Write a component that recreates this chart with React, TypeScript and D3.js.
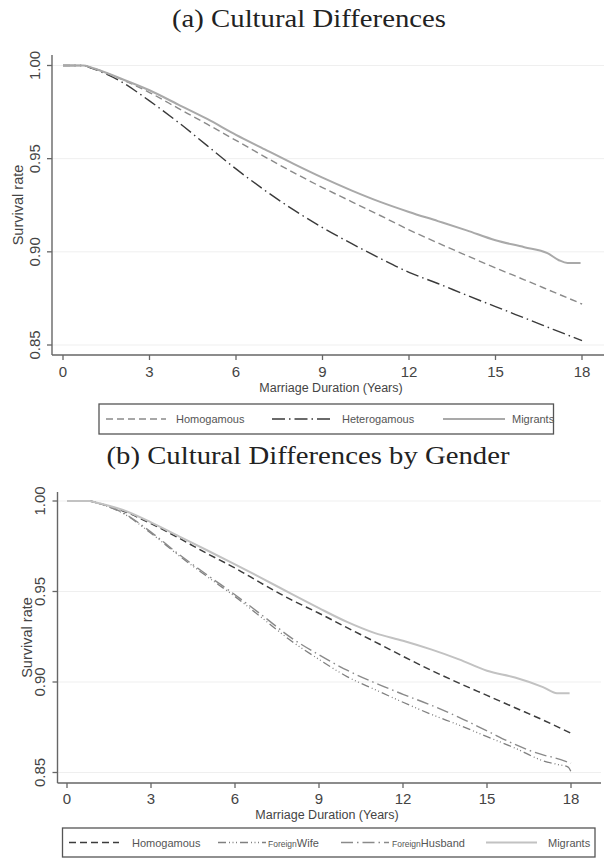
import React from "react";
import * as d3 from "d3";

// ---------- data ----------
const xTicks = [0, 3, 6, 9, 12, 15, 18];
const yTicks = [0.85, 0.9, 0.95, 1.0];

const titleA = "(a) Cultural Differences";
const titleB = "(b) Cultural Differences by Gender";
const xTitle = "Marriage Duration (Years)";
const yTitle = "Survival rate";

// Panel (a)
const homogA: [number, number][] = [
  [0, 1], [0.7, 1.0], [1, 0.9988], [2, 0.9928], [3, 0.9855], [4, 0.977], [5, 0.9685],
  [6, 0.9598], [7, 0.951], [8, 0.9425], [9, 0.9345], [10, 0.927], [11, 0.9195],
  [12, 0.9118], [13, 0.9048], [14, 0.898], [15, 0.8914], [16, 0.885], [17, 0.8785], [18, 0.872],
];
const heteroA: [number, number][] = [
  [0, 1], [0.7, 1.0], [1, 0.9985], [2, 0.9915], [3, 0.981], [4, 0.9695], [5, 0.957],
  [6, 0.9445], [7, 0.933], [8, 0.9225], [9, 0.913], [10, 0.9045], [11, 0.8965],
  [12, 0.889], [13, 0.883], [14, 0.8767], [15, 0.8706], [16, 0.8645], [17, 0.8584], [18, 0.8523],
];
const migrantsA: [number, number][] = [
  [0, 1], [0.7, 1.0], [1, 0.9988], [2, 0.993], [3, 0.9867], [4, 0.979], [5, 0.9713],
  [6, 0.9628], [7, 0.955], [8, 0.9472], [9, 0.9398], [10, 0.933], [11, 0.9268],
  [12, 0.9214], [13, 0.9165], [14, 0.9115], [15, 0.9062], [16, 0.9025], [16.8, 0.8993],
  [17.2, 0.8955], [17.5, 0.894], [17.95, 0.894],
];

// Panel (b)
const homogB: [number, number][] = [
  [0, 1], [0.8, 1.0], [1, 0.9993], [2, 0.9945], [3, 0.9875], [4, 0.9795], [5, 0.971],
  [6, 0.963], [7, 0.954], [8, 0.9455], [9, 0.938], [10, 0.93], [11, 0.9222],
  [12, 0.9142], [13, 0.9065], [14, 0.8994], [15, 0.8926], [16, 0.8858], [17, 0.879], [18, 0.8717],
];
const foreignWifeB: [number, number][] = [
  [0, 1], [0.8, 1.0], [1, 0.9992], [2, 0.9932], [3, 0.9822], [4, 0.9698], [5, 0.9583],
  [6, 0.9472], [7, 0.935], [8, 0.9228], [9, 0.9125], [10, 0.903], [11, 0.8958],
  [12, 0.8888], [13, 0.8822], [14, 0.8762], [15, 0.8698], [16, 0.8635], [17, 0.8565],
  [17.5, 0.8545], [17.9, 0.853], [18, 0.8505],
];
const foreignHusbandB: [number, number][] = [
  [0, 1], [0.8, 1.0], [1, 0.9992], [2, 0.9935], [3, 0.9828], [4, 0.9705], [5, 0.9592],
  [6, 0.9482], [7, 0.9365], [8, 0.9245], [9, 0.915], [10, 0.9065], [11, 0.8995],
  [12, 0.8932], [13, 0.8872], [14, 0.8805], [15, 0.873], [16, 0.8655], [17, 0.8597],
  [17.4, 0.8582], [18, 0.8551],
];
const migrantsB: [number, number][] = [
  [0, 1], [0.8, 1.0], [1, 0.9993], [2, 0.995], [3, 0.9882], [4, 0.9805], [5, 0.9728],
  [6, 0.965], [7, 0.957], [8, 0.9488], [9, 0.9408], [10, 0.9332], [11, 0.927],
  [12, 0.9228], [13, 0.918], [14, 0.9125], [15, 0.9062], [16, 0.9025], [17, 0.8972],
  [17.5, 0.8938], [17.95, 0.8938],
];

// ---------- styling ----------
const SANS = "'Liberation Sans', Arial, Helvetica, sans-serif";
const SERIF = "'Liberation Serif', 'Times New Roman', serif";

type Series = {
  data: [number, number][];
  color: string;
  width: number;
  dash: string;
  prefix?: string;
  label: string;
  sx1: number;
  sx2: number;
  tx: number;
};

type PanelProps = {
  title: string;
  titleX: number;
  titleY: number;
  titleLen: number;
  axisX: number;
  axisTop: number;
  axisY: number;
  axisRight: number;
  x0: number;
  x18: number;
  y100: number;
  y085: number;
  yLabelX: number;
  yTitleX: number;
  xLabelY: number;
  xTitleX: number;
  xTitleY: number;
  legend: { x1: number; x2: number; y1: number; y2: number; ty: number };
  series: Series[];
};

function Panel(p: PanelProps) {
  const x = d3.scaleLinear().domain([0, 18]).range([p.x0, p.x18]);
  const y = d3.scaleLinear().domain([0.85, 1]).range([p.y085, p.y100]);
  const line = d3
    .line<[number, number]>()
    .x((d) => x(d[0]))
    .y((d) => y(d[1]))
    .curve(d3.curveMonotoneX);
  const midY = (p.axisTop + p.axisY) / 2;
  const ly = (p.legend.y1 + p.legend.y2) / 2;
  return (
    <g>
      <text
        x={p.titleX}
        y={p.titleY}
        textAnchor="middle"
        fontFamily={SERIF}
        fontSize={25}
        fill="#222"
        textLength={p.titleLen}
        lengthAdjust="spacingAndGlyphs"
      >
        {p.title}
      </text>
      {yTicks.map((t) => (
        <line key={"g" + t} x1={p.axisX} x2={p.axisRight} y1={y(t)} y2={y(t)} stroke="#efefef" strokeWidth={1} />
      ))}
      {p.series.map((s, i) => (
        <path
          key={"s" + i}
          d={line(s.data) || ""}
          fill="none"
          stroke={s.color}
          strokeWidth={s.width}
          strokeDasharray={s.dash}
        />
      ))}
      {/* y axis */}
      <line x1={p.axisX} x2={p.axisX} y1={p.axisTop} y2={p.axisY} stroke="#666" strokeWidth={1.4} />
      {yTicks.map((t) => (
        <g key={"yt" + t}>
          <line x1={p.axisX - 5} x2={p.axisX} y1={y(t)} y2={y(t)} stroke="#666" strokeWidth={1.3} />
          <text
            transform={`translate(${p.yLabelX},${y(t)}) rotate(-90)`}
            textAnchor="middle"
            fontFamily={SANS}
            fontSize={15}
            fill="#444"
          >
            {t.toFixed(2)}
          </text>
        </g>
      ))}
      <text
        transform={`translate(${p.yTitleX},${midY}) rotate(-90)`}
        textAnchor="middle"
        fontFamily={SANS}
        fontSize={14.5}
        fill="#444"
      >
        {yTitle}
      </text>
      {/* x axis */}
      <line x1={p.axisX} x2={p.axisRight} y1={p.axisY} y2={p.axisY} stroke="#666" strokeWidth={1.4} />
      {xTicks.map((t) => (
        <g key={"xt" + t}>
          <line x1={x(t)} x2={x(t)} y1={p.axisY} y2={p.axisY + 5} stroke="#666" strokeWidth={1.3} />
          <text x={x(t)} y={p.xLabelY} textAnchor="middle" fontFamily={SANS} fontSize={15} fill="#444">
            {t}
          </text>
        </g>
      ))}
      <text x={p.xTitleX} y={p.xTitleY} textAnchor="middle" fontFamily={SANS} fontSize={12.5} fill="#444">
        {xTitle}
      </text>
      {/* legend */}
      <rect
        x={p.legend.x1}
        y={p.legend.y1}
        width={p.legend.x2 - p.legend.x1}
        height={p.legend.y2 - p.legend.y1}
        fill="white"
        stroke="#555"
        strokeWidth={1.3}
      />
      {p.series.map((s, i) => (
        <g key={"l" + i}>
          <line x1={s.sx1} x2={s.sx2} y1={ly} y2={ly} stroke={s.color} strokeWidth={s.width} strokeDasharray={s.dash} />
          <text x={s.tx} y={p.legend.ty} fontFamily={SANS} fontSize={11} fill="#555">
            {s.prefix ? <tspan fontSize={8.5}>{s.prefix}</tspan> : null}
            {s.label}
          </text>
        </g>
      ))}
    </g>
  );
}

export default function App() {
  const seriesA: Series[] = [
    { data: homogA, color: "#8a8a8a", width: 1.4, dash: "7,4", label: "Homogamous", sx1: 106, sx2: 166, tx: 176 },
    { data: heteroA, color: "#3a3a3a", width: 1.4, dash: "13,4,1.5,4", label: "Heterogamous", sx1: 272, sx2: 330, tx: 342 },
    { data: migrantsA, color: "#a9a9a9", width: 2, dash: "none", label: "Migrants", sx1: 443, sx2: 505, tx: 512 },
  ];
  const seriesB: Series[] = [
    { data: homogB, color: "#3c3c3c", width: 1.5, dash: "7,4", label: "Homogamous", sx1: 69, sx2: 119, tx: 132 },
    { data: foreignWifeB, color: "#808080", width: 1.3, dash: "8,3,1,2.5,1,2.5,1,3", prefix: "Foreign", label: "Wife", sx1: 218, sx2: 266, tx: 268 },
    { data: foreignHusbandB, color: "#8a8a8a", width: 1.4, dash: "12,4,1.5,4", prefix: "Foreign", label: "Husband", sx1: 341, sx2: 389, tx: 392 },
    { data: migrantsB, color: "#c2c2c2", width: 2, dash: "none", label: "Migrants", sx1: 486, sx2: 537, tx: 548 },
  ];
  return (
    <svg
      width={604}
      height={861}
      viewBox="0 0 604 861"
      style={{ position: "absolute", left: 0, top: 0, background: "white" }}
    >
      <rect x={0} y={0} width={604} height={861} fill="white" />
      <Panel
        title={titleA}
        titleX={309}
        titleY={27}
        titleLen={274}
        axisX={52}
        axisTop={55}
        axisY={355}
        axisRight={604}
        x0={63}
        x18={582}
        y100={65.5}
        y085={345}
        yLabelX={39.5}
        yTitleX={23}
        xLabelY={376.5}
        xTitleX={331}
        xTitleY={391.5}
        legend={{ x1: 99, x2: 553.5, y1: 404, y2: 434, ty: 423 }}
        series={seriesA}
      />
      <Panel
        title={titleB}
        titleX={308}
        titleY={464}
        titleLen={403}
        axisX={57.5}
        axisTop={492}
        axisY={783}
        axisRight={601}
        x0={67}
        x18={571}
        y100={501}
        y085={772.5}
        yLabelX={45}
        yTitleX={32}
        xLabelY={803.5}
        xTitleX={327}
        xTitleY={818.5}
        legend={{ x1: 62.5, x2: 595, y1: 828, y2: 857, ty: 847 }}
        series={seriesB}
      />
    </svg>
  );
}
